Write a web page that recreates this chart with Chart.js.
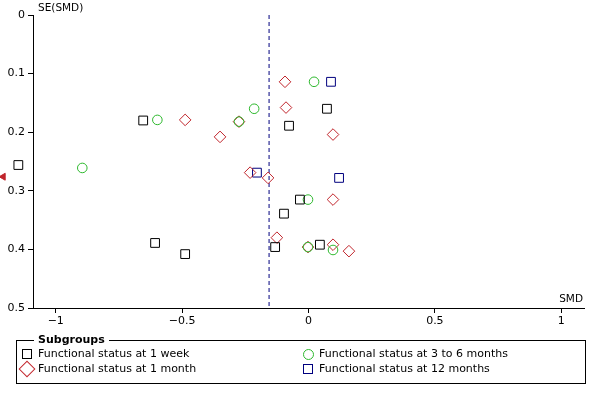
<!DOCTYPE html>
<html>
<head>
<meta charset="utf-8">
<script src="https://cdn.jsdelivr.net/npm/chart.js@4/dist/chart.umd.min.js"></script>
<style>
    body { margin: 0; background: #fff; }
    #wrap { position: relative; width: 600px; height: 400px; font-family: "DejaVu Sans", sans-serif; font-size: 11px; }
    #legendBox { position: absolute; left: 16px; top: 340px; width: 570px; height: 44px; box-sizing: border-box; border: 1px solid #000; }
    #legendTitle { position: absolute; left: 34px; top: 332px; padding: 0 4px; background: #fff; font-weight: bold; line-height: 15px; }
    .item { position: absolute; line-height: 14px; white-space: nowrap; }
    .mk { position: absolute; box-sizing: border-box; }
</style>
</head>
<body>
<div id="wrap">
    <canvas id="funnel" width="600" height="400"></canvas>
    <div id="legendBox"></div>
    <div id="legendTitle">Subgroups</div>
    <span class="mk" style="left:22px;top:349px;width:10px;height:10px;border:1px solid #000;"></span>
    <span class="item" style="left:38px;top:347px;">Functional status at 1 week</span>
    <span class="mk" style="left:21px;top:363px;width:12px;height:12px;border:1px solid #c3272e;transform:rotate(45deg);"></span>
    <span class="item" style="left:38px;top:362px;">Functional status at 1 month</span>
    <span class="mk" style="left:303px;top:349px;width:11px;height:11px;border:1px solid #2db82d;border-radius:50%;"></span>
    <span class="item" style="left:319px;top:347px;">Functional status at 3 to 6 months</span>
    <span class="mk" style="left:303px;top:364px;width:10px;height:10px;border:1px solid #00007f;"></span>
    <span class="item" style="left:319px;top:362px;">Functional status at 12 months</span>
</div>
<script>
// axis ticks
const xTicks = [-1, -0.5, 0, 0.5, 1];
const yTicks = [0, 0.1, 0.2, 0.3, 0.4, 0.5];
const pooledSmd = -0.156;

// Functional status at 1 week
const week1Smd = [-0.654, -1.148, -0.077, 0.073, -0.607, -0.488, -0.132, -0.097, -0.034, 0.045];
const week1Se = [0.180, 0.256, 0.189, 0.160, 0.389, 0.408, 0.396, 0.339, 0.315, 0.392];

// Functional status at 1 month
const month1Smd = [-0.488, -0.350, -0.275, -0.093, -0.089, 0.097, -0.231, -0.160, -0.125, 0.097, -0.002, 0.097, 0.160];
const month1Se = [0.179, 0.208, 0.182, 0.114, 0.158, 0.204, 0.269, 0.278, 0.380, 0.315, 0.396, 0.392, 0.403];

// Functional status at 3 to 6 months
const months3to6Smd = [-0.598, -0.275, -0.215, 0.022, -0.895, -0.002, -0.002, 0.097];
const months3to6Se = [0.179, 0.182, 0.160, 0.114, 0.261, 0.315, 0.396, 0.401];

// Functional status at 12 months
const months12Smd = [0.089, -0.204, 0.121];
const months12Se = [0.114, 0.269, 0.278];

// 1 month study off the left edge of the scale (drawn as arrow)
const offScaleSmd = [-1.208];
const offScaleSe = [0.276];

function pts(xs, ys) {
    return xs.map((x, i) => ({ x: x, y: ys[i] }));
}

const fmt = v => {
    const s = String(Math.round(v * 10) / 10);
    return s.replace('-', '\u2212');
};

const axisTitles = {
    id: 'axisTitles',
    afterDraw(chart) {
        const ctx = chart.ctx;
        const a = chart.chartArea;
        ctx.save();
        ctx.fillStyle = '#000';
        ctx.font = '10.5px "DejaVu Sans"';
        ctx.textBaseline = 'alphabetic';
        ctx.textAlign = 'left';
        ctx.fillText('SE(SMD)', a.left + 5, a.top - 4);
        ctx.textAlign = 'right';
        ctx.fillText('SMD', a.right - 1, a.bottom - 6);
        ctx.restore();
    }
};

// chart.js skips points outside the chart area even with clip off,
// so draw those point elements again with the whole canvas as area
const outsidePoints = {
    id: 'outsidePoints',
    afterDatasetsDraw(chart) {
        const a = chart.chartArea;
        const full = { left: 0, top: 0, right: chart.width, bottom: chart.height };
        chart.data.datasets.forEach((ds, i) => {
            const meta = chart.getDatasetMeta(i);
            if (meta.type !== 'scatter') return;
            meta.data.forEach(el => {
                if (el.x < a.left || el.x > a.right) el.draw(chart.ctx, full);
            });
        });
    }
};

const ctx = document.getElementById('funnel').getContext('2d');
new Chart(ctx, {
    type: 'scatter',
    data: {
        datasets: [{
            label: 'Functional status at 1 week',
            data: pts(week1Smd, week1Se),
            pointStyle: 'rect',
            pointRadius: 6.2,
            borderColor: '#000000',
            backgroundColor: 'rgba(0,0,0,0)',
            borderWidth: 1,
            clip: false
        }, {
            label: 'Functional status at 3 to 6 months',
            data: pts(months3to6Smd, months3to6Se),
            pointStyle: 'circle',
            pointRadius: 4.8,
            borderColor: '#2db82d',
            backgroundColor: 'rgba(0,0,0,0)',
            borderWidth: 1,
            clip: false
        }, {
            label: 'Functional status at 1 month',
            data: pts(month1Smd, month1Se),
            pointStyle: 'rectRot',
            pointRadius: 5.8,
            borderColor: '#c0242b',
            backgroundColor: 'rgba(0,0,0,0)',
            borderWidth: 1,
            clip: false
        }, {
            label: 'Functional status at 12 months',
            data: pts(months12Smd, months12Se),
            pointStyle: 'rect',
            pointRadius: 6.2,
            borderColor: '#00007f',
            backgroundColor: 'rgba(0,0,0,0)',
            borderWidth: 1,
            clip: false
        }, {
            label: 'off scale',
            data: pts(offScaleSmd, offScaleSe),
            pointStyle: 'triangle',
            rotation: -90,
            pointRadius: 4,
            borderColor: '#c0242b',
            backgroundColor: '#c0242b',
            borderWidth: 1,
            clip: false
        }, {
            type: 'line',
            label: 'pooled',
            data: [{ x: pooledSmd, y: yTicks[0] }, { x: pooledSmd, y: yTicks[yTicks.length - 1] }],
            borderColor: '#00007f',
            borderWidth: 1,
            borderDash: [4, 3],
            pointRadius: 0,
            fill: false
        }]
    },
    options: {
        responsive: false,
        animation: false,
        events: [],
        layout: { padding: { top: 15, right: 16, bottom: 72, left: 0 } },
        plugins: {
            legend: { display: false },
            tooltip: { enabled: false }
        },
        scales: {
            x: {
                type: 'linear',
                min: -1.09,
                max: 1.09,
                afterBuildTicks: scale => { scale.ticks = xTicks.map(v => ({ value: v })); },
                afterFit: scale => { scale.height = 20; },
                ticks: {
                    callback: v => fmt(v),
                    color: '#000',
                    padding: 2,
                    maxRotation: 0,
                    font: { family: 'DejaVu Sans', size: 11 }
                },
                grid: { drawOnChartArea: false, drawTicks: true, tickLength: 5, color: '#000' },
                border: { display: true, color: '#000', width: 1 }
            },
            y: {
                type: 'linear',
                reverse: true,
                min: 0,
                max: 0.5,
                afterBuildTicks: scale => { scale.ticks = yTicks.map(v => ({ value: v })); },
                afterFit: scale => { scale.width = 33; },
                ticks: {
                    callback: v => fmt(v),
                    color: '#000',
                    padding: 3,
                    font: { family: 'DejaVu Sans', size: 11 }
                },
                grid: { drawOnChartArea: false, drawTicks: true, tickLength: 5, color: '#000' },
                border: { display: true, color: '#000', width: 1 }
            }
        }
    },
    plugins: [axisTitles, outsidePoints]
});
</script>
</body>
</html>
